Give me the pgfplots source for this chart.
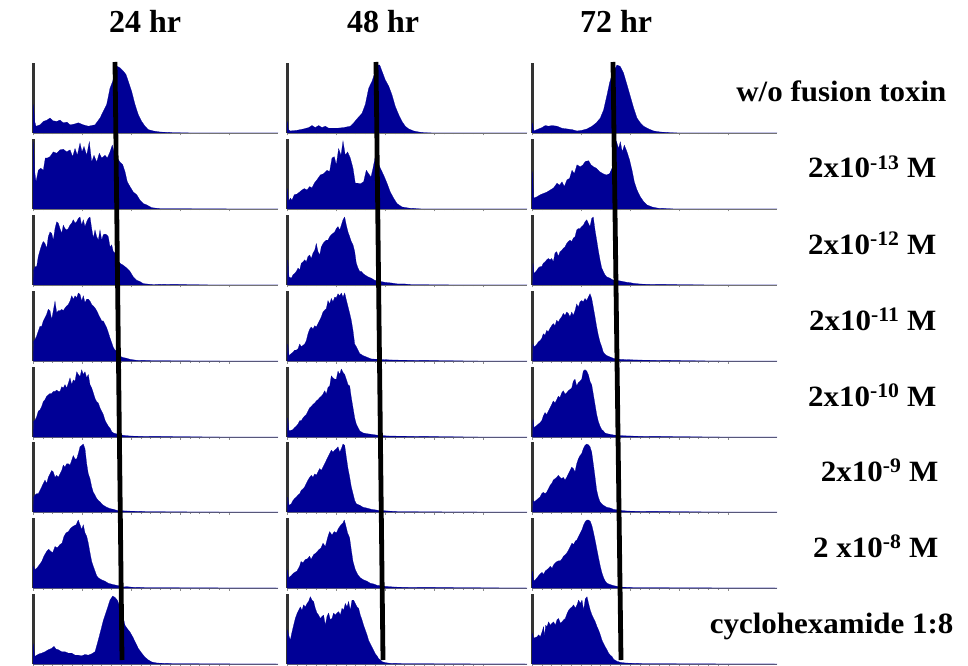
\documentclass[border=0pt]{standalone}
\usepackage{pgfplots}
\pgfplotsset{compat=1.18}
\usepackage{graphicx}
\usepackage{fontspec}
\setmainfont{Liberation Serif}[BoldFont={Liberation Serif Bold}]
\definecolor{hist}{RGB}{0,0,150}
\pgfplotsset{
 panel/.style={
  scale only axis, height=70pt, width=#1pt, xmin=0, xmax=#1, ymin=0, ymax=1.03,
  axis lines=left, axis line style={-},
  x axis line style={black!55, line width=0.6pt},
  y axis line style={black!80, line width=3pt},
  ytick=\empty, xtick={0,49,98,147,196}, minor x tick num=4, xticklabels={},
  tick style={black!45, line width=0.3pt}, major tick length=2.5pt, minor tick length=1.5pt, tick align=outside,
  anchor=south west
 },
 hst/.style={fill=hist, draw=hist, line width=0.2pt}
}
\newcommand{\lab}[1]{\fontsize{31}{35}\selectfont\bfseries\scalebox{1}[0.95]{#1}}
\newcommand{\hdr}[1]{\fontsize{32}{36}\selectfont\bfseries\scalebox{1}[1]{#1}}
\begin{document}
\begin{tikzpicture}
\useasboundingbox (0pt,0pt) rectangle (968pt,665pt);
% ---------------- column 1 (24 hr) ----------------
\begin{axis}[panel=245, at={(33pt,532pt)}]
\addplot[hst] coordinates {(0,0) (0.3,0.42) (1.7,0.17) (3,0.10) (7,0.12) (10.3,0.17) (14,0.19) (17,0.22) (20,0.18) (23.7,0.17) (27,0.19) (30.3,0.15) (34,0.16) (37,0.12) (41,0.13) (45.3,0.15) (50.3,0.12) (55.3,0.10) (62,0.12) (67,0.22) (70.3,0.32) (73.7,0.42) (77,0.66) (79.7,0.76) (82,0.93) (84.3,0.98) (87,0.96) (90.3,0.91) (93,0.86) (95.3,0.76) (98.7,0.61) (102,0.42) (105.3,0.27) (108.7,0.17) (112,0.10) (115.3,0.05) (120.3,0.03) (127,0.015) (140,0.005) (167,0) (245,0)} \closedcycle;
\end{axis}
\begin{axis}[panel=245, at={(33pt,456pt)}]
\addplot[hst] coordinates {(0,0) (0.3,0.99) (1.7,0.55) (3,0.40) (5.3,0.57) (7.7,0.60) (10.3,0.57) (12.3,0.75) (14.3,0.75) (17,0.77) (20.3,0.84) (23.7,0.82) (27,0.87) (30.3,0.88) (33.7,0.84) (37,0.87) (39.7,0.77) (42,0.89) (44.3,0.79) (47,0.97) (49,0.84) (51,0.92) (53.7,0.79) (56.3,0.99) (58.7,0.69) (61,0.79) (63.7,0.69) (66.3,0.82) (68.7,0.75) (72,0.79) (74.3,0.75) (77,0.84) (79.3,0.94) (82,0.79) (84.3,0.75) (87,0.69) (89.7,0.65) (92,0.55) (94.3,0.40) (97,0.33) (100.3,0.25) (103.7,0.21) (107,0.13) (110.3,0.08) (113.7,0.06) (118.7,0.02) (127,0.005) (245,0)} \closedcycle;
\end{axis}
\begin{axis}[panel=245, at={(33pt,380pt)}]
\addplot[hst] coordinates {(0.3,0) (0.7,0.22) (2,0.27) (3.7,0.27) (5.3,0.42) (7,0.51) (8.7,0.59) (10.3,0.64) (12,0.61) (13.7,0.54) (15.3,0.71) (17,0.78) (18.7,0.76) (20.3,0.66) (22,0.83) (23.7,0.93) (25.3,0.91) (27,0.83) (28.7,0.76) (30.3,0.88) (32,0.83) (33.7,0.81) (35.3,0.83) (37,0.88) (38.7,0.91) (40.3,0.96) (42,0.91) (43.7,0.93) (45.3,0.98) (47,1.0) (48.7,0.88) (50.3,0.96) (52,0.86) (53.7,0.93) (55.3,0.98) (57,1.0) (58.7,0.83) (60.3,0.69) (62,0.81) (63.7,0.71) (65.3,0.66) (67,0.81) (68.7,0.66) (70.3,0.74) (72,0.75) (73.7,0.74) (75.3,0.71) (77,0.56) (78.7,0.59) (80.3,0.49) (82,0.47) (83.7,0.37) (85.3,0.34) (87,0.32) (90.3,0.29) (93.7,0.25) (97,0.20) (100.3,0.12) (103.7,0.07) (107,0.05) (110.3,0.02) (113.7,0.015) (120.3,0.005) (130.3,0.01) (187,0) (245,0)} \closedcycle;
\end{axis}
\begin{axis}[panel=245, at={(33pt,304pt)}]
\addplot[hst] coordinates {(0.3,0) (0.7,0.29) (2,0.32) (3.7,0.37) (5.3,0.44) (7,0.51) (8.7,0.51) (10.3,0.59) (12,0.64) (13.7,0.69) (15.3,0.76) (17,0.74) (18.7,0.61) (20.3,0.74) (22,0.88) (23.7,0.71) (25.3,0.74) (27,0.74) (28.7,0.76) (30.3,0.74) (32,0.78) (33.7,0.81) (35.3,0.83) (37,0.88) (38.7,0.96) (40.3,0.91) (42,0.96) (43.7,0.93) (45.3,1.0) (47,0.98) (48.7,0.88) (50.3,0.96) (52,0.86) (53.7,0.91) (55.3,0.91) (57,0.88) (58.7,0.83) (60.3,0.81) (62,0.78) (63.7,0.74) (65.3,0.69) (67,0.64) (68.7,0.59) (70.3,0.59) (72,0.54) (73.7,0.49) (75.3,0.42) (77,0.34) (78.7,0.27) (80.3,0.20) (82,0.16) (83.7,0.15) (87,0.07) (90.3,0.05) (93.7,0.04) (97,0.025) (103.7,0.01) (120.3,0.005) (187,0) (245,0)} \closedcycle;
\end{axis}
\begin{axis}[panel=245, at={(33pt,228pt)}]
\addplot[hst] coordinates {(0.3,0) (0.7,0.23) (2,0.25) (3.7,0.30) (5.3,0.38) (7,0.40) (8.7,0.45) (10.3,0.52) (12,0.55) (13.7,0.60) (15.3,0.62) (17,0.64) (18.7,0.64) (20.3,0.67) (22,0.67) (23.7,0.69) (25.3,0.67) (27,0.67) (28.7,0.74) (30.3,0.72) (32,0.77) (33.7,0.72) (35.3,0.79) (37,0.87) (38.7,0.77) (40.3,0.84) (42,0.82) (43.7,0.96) (45.3,0.92) (47,0.89) (48.7,0.99) (50.3,0.92) (52,0.96) (53.7,0.87) (55.3,0.92) (57,0.77) (58.7,0.72) (60.3,0.65) (62,0.57) (63.7,0.52) (65.3,0.50) (67,0.43) (68.7,0.38) (70.3,0.33) (72,0.25) (73.7,0.20) (75.3,0.16) (77,0.13) (78.7,0.08) (80.3,0.06) (83.7,0.045) (87,0.035) (90.3,0.025) (97,0.015) (107,0.01) (187,0) (245,0)} \closedcycle;
\end{axis}
\begin{axis}[panel=245, at={(33pt,153pt)}]
\addplot[hst] coordinates {(0.3,0) (0.7,0.22) (2,0.25) (3.7,0.27) (5.3,0.27) (7,0.32) (8.7,0.37) (10.3,0.42) (12,0.47) (13.7,0.42) (15.3,0.51) (17,0.56) (18.7,0.61) (20.3,0.59) (22,0.51) (23.7,0.54) (25.3,0.51) (27,0.56) (28.7,0.61) (30.3,0.69) (32,0.66) (33.7,0.71) (35.3,0.71) (37,0.69) (38.7,0.76) (40.3,0.83) (42,0.78) (43.7,0.78) (45.3,0.86) (47,0.96) (48.7,0.98) (50.3,1.0) (52,0.93) (53.7,0.71) (55.3,0.56) (57,0.49) (58.7,0.37) (60.3,0.29) (62,0.25) (63.7,0.20) (65.3,0.17) (67,0.15) (68.7,0.12) (70.3,0.10) (73.7,0.07) (77,0.05) (80.3,0.04) (83.7,0.025) (87,0.02) (93.7,0.015) (103.7,0.01) (113.7,0.005) (187,0) (245,0)} \closedcycle;
\end{axis}
\begin{axis}[panel=245, at={(33pt,77pt)}]
\addplot[hst] coordinates {(0,0) (0.3,0.32) (1.7,0.27) (3.7,0.29) (6.3,0.34) (8.7,0.39) (11,0.47) (13.7,0.54) (15.7,0.57) (17.7,0.54) (19.7,0.52) (22,0.61) (24.3,0.59) (27,0.64) (29,0.66) (31,0.76) (33,0.81) (35.3,0.83) (37.7,0.88) (40.3,0.91) (43,0.93) (45.3,1.0) (47,0.93) (48.7,0.86) (50.3,0.93) (52,0.81) (53.7,0.76) (55.3,0.66) (57,0.52) (58.7,0.39) (60.3,0.32) (62,0.25) (63.7,0.18) (65.3,0.15) (68.7,0.12) (72,0.10) (75.3,0.07) (80.3,0.05) (85.3,0.035) (90.3,0.015) (93.7,0.02) (100.3,0.01) (113.7,0.005) (245,0)} \closedcycle;
\end{axis}
\begin{axis}[panel=245, at={(33pt,1pt)}]
\addplot[hst] coordinates {(0,0) (0.3,0.30) (1.7,0.11) (3.7,0.13) (6.3,0.15) (8.7,0.16) (12,0.18) (15.3,0.21) (18.7,0.23) (21,0.26) (23,0.22) (25.3,0.21) (28.7,0.18) (32,0.18) (35.3,0.16) (38.7,0.16) (42,0.13) (45.3,0.13) (48.7,0.12) (52,0.14) (55.3,0.13) (58.7,0.15) (62,0.18) (64.3,0.30) (67,0.45) (70.3,0.64) (73.7,0.79) (77,0.94) (79.7,1.0) (82,0.98) (84.3,0.94) (87,0.84) (89.7,0.72) (92,0.57) (94.3,0.52) (97,0.47) (99.7,0.40) (102,0.33) (105.3,0.23) (108.7,0.16) (112,0.10) (115.3,0.06) (118.7,0.03) (123.7,0.015) (130.3,0.01) (140.3,0.005) (245,0)} \closedcycle;
\end{axis}
% ---------------- column 2 (48 hr) ----------------
\begin{axis}[panel=240, at={(287pt,532pt)}]
\addplot[hst] coordinates {(0,0) (0.3,0.17) (1.3,0.05) (3.3,0.03) (10,0.04) (16.7,0.06) (21.7,0.08) (25,0.11) (28.3,0.08) (31.7,0.11) (35,0.08) (38.3,0.10) (41.7,0.07) (50,0.07) (56.7,0.08) (63.3,0.10) (66.7,0.15) (70.7,0.22) (75,0.29) (78.3,0.42) (81.7,0.66) (85,0.76) (88.3,0.91) (90,1.0) (92.7,1.0) (95,0.91) (98.3,0.78) (101.7,0.69) (105,0.56) (108.3,0.39) (111.7,0.27) (115,0.17) (118.3,0.10) (121.7,0.06) (126.7,0.03) (131.7,0.015) (136.7,0.005) (150,0) (240,0)} \closedcycle;
\end{axis}
\begin{axis}[panel=240, at={(287pt,456pt)}]
\addplot[hst] coordinates {(0,0) (0.3,0.30) (1.6,0.11) (3.3,0.16) (5,0.13) (7.3,0.21) (10,0.22) (12.6,0.25) (15,0.28) (17.3,0.30) (20,0.28) (22.6,0.33) (25,0.31) (27.3,0.38) (30,0.43) (33.3,0.50) (36.6,0.52) (40,0.57) (42.6,0.55) (45,0.75) (47.3,0.77) (49.3,0.65) (51.6,0.89) (54,0.79) (56,1.0) (58.3,0.79) (60.6,0.84) (63.3,0.75) (66,0.60) (68.3,0.38) (70.6,0.38) (73.3,0.37) (76.6,0.40) (79.3,0.57) (81.6,0.52) (84,0.47) (86,0.60) (88.3,0.77) (90.6,0.70) (93.3,0.60) (96.6,0.50) (100,0.38) (103.3,0.25) (106.6,0.16) (110,0.08) (115,0.03) (123.3,0.01) (136.6,0) (240,0)} \closedcycle;
\end{axis}
\begin{axis}[panel=240, at={(287pt,380pt)}]
\addplot[hst] coordinates {(0.3,0) (0.7,0.37) (2,0.12) (4.3,0.10) (6,0.15) (7.7,0.17) (9.3,0.20) (11,0.25) (12.7,0.22) (14.3,0.32) (16,0.34) (17.7,0.37) (19.3,0.34) (21,0.42) (22.7,0.44) (24.3,0.39) (26,0.47) (27.7,0.51) (29.3,0.61) (31,0.49) (32.7,0.44) (34.3,0.56) (36,0.61) (37.7,0.64) (39.3,0.66) (41,0.66) (42.7,0.71) (44.3,0.74) (46,0.76) (47.7,0.78) (49.3,0.83) (51,0.86) (52.7,0.81) (54.3,0.88) (56,0.96) (57.7,1.0) (59.3,0.88) (61,0.78) (62.7,0.71) (64.3,0.64) (66,0.59) (67.7,0.49) (69.3,0.32) (71,0.25) (72.7,0.20) (74.3,0.20) (76,0.17) (77.7,0.15) (81,0.12) (84.3,0.10) (87.7,0.07) (91,0.06) (94.3,0.05) (97.7,0.04) (104.3,0.03) (111,0.015) (117.7,0.015) (124.3,0.005) (191,0) (240,0)} \closedcycle;
\end{axis}
\begin{axis}[panel=240, at={(287pt,304pt)}]
\addplot[hst] coordinates {(0.3,0) (0.7,0.25) (2,0.08) (4.3,0.11) (6,0.13) (7.7,0.16) (9.3,0.16) (11,0.18) (12.7,0.25) (14.3,0.21) (16,0.23) (17.7,0.25) (19.3,0.30) (21,0.40) (22.7,0.47) (24.3,0.50) (26,0.47) (27.7,0.52) (29.3,0.50) (31,0.55) (32.7,0.60) (34.3,0.65) (36,0.72) (37.7,0.75) (39.3,0.77) (41,0.89) (42.7,0.84) (44.3,0.92) (46,0.87) (47.7,0.94) (49.3,0.93) (51,0.99) (52.7,0.96) (54.3,1.0) (56,0.94) (57.7,1.0) (59.3,0.90) (61,0.80) (62.7,0.70) (64.3,0.60) (66,0.45) (67.7,0.25) (69.3,0.21) (71,0.16) (72.7,0.11) (76,0.08) (79.3,0.06) (84.3,0.03) (91,0.025) (104.3,0.015) (124.3,0.01) (191,0) (240,0)} \closedcycle;
\end{axis}
\begin{axis}[panel=240, at={(287pt,228pt)}]
\addplot[hst] coordinates {(0.3,0) (0.7,0.28) (2,0.09) (4.3,0.10) (6,0.11) (7.7,0.14) (9.3,0.16) (11,0.19) (12.7,0.24) (14.3,0.24) (16,0.28) (17.7,0.31) (19.3,0.33) (21,0.38) (22.7,0.43) (24.3,0.45) (26,0.48) (27.7,0.50) (29.3,0.53) (31,0.55) (32.7,0.58) (34.3,0.60) (36,0.63) (37.7,0.68) (39.3,0.63) (41,0.73) (42.7,0.75) (44.3,0.90) (46,0.87) (47.7,0.85) (49.3,0.85) (51,0.97) (52.7,0.92) (54.3,1.0) (56,0.95) (57.7,0.92) (59.3,0.85) (61,0.77) (62.7,0.75) (64.3,0.58) (66,0.43) (67.7,0.28) (69.3,0.19) (71,0.14) (72.7,0.09) (76,0.06) (79.3,0.05) (84.3,0.04) (91,0.025) (101,0.015) (124.3,0.01) (191,0) (240,0)} \closedcycle;
\end{axis}
\begin{axis}[panel=240, at={(287pt,153pt)}]
\addplot[hst] coordinates {(0.3,0) (0.7,0.22) (2,0.10) (4.3,0.12) (6,0.17) (7.7,0.20) (9.3,0.22) (11,0.25) (12.7,0.27) (14.3,0.32) (16,0.34) (17.7,0.37) (19.3,0.42) (21,0.47) (22.7,0.51) (24.3,0.54) (26,0.51) (27.7,0.56) (29.3,0.54) (31,0.59) (32.7,0.64) (34.3,0.61) (36,0.66) (37.7,0.71) (39.3,0.76) (41,0.81) (42.7,0.86) (44.3,0.91) (46,0.88) (47.7,0.91) (49.3,0.93) (51,0.96) (52.7,0.88) (54.3,0.93) (56,1.0) (57.7,0.98) (59.3,0.81) (61,0.64) (62.7,0.51) (64.3,0.37) (66,0.27) (67.7,0.17) (69.3,0.12) (72.7,0.10) (76,0.07) (79.3,0.06) (84.3,0.04) (91,0.025) (101,0.015) (111,0.005) (191,0) (240,0)} \closedcycle;
\end{axis}
\begin{axis}[panel=240, at={(287pt,77pt)}]
\addplot[hst] coordinates {(0,0) (0.3,0.27) (1.6,0.15) (4,0.18) (6.6,0.22) (10,0.25) (12.6,0.32) (14,0.39) (16,0.37) (18.3,0.42) (20.6,0.43) (22.6,0.47) (24,0.42) (26.6,0.49) (29.3,0.52) (31.6,0.56) (34,0.59) (36,0.66) (38.3,0.61) (40.6,0.74) (42.6,0.83) (45,0.78) (47.3,0.83) (49.3,0.81) (51.6,0.88) (54,0.93) (56,0.96) (57.3,1.0) (58.6,0.93) (60.6,0.81) (62.6,0.74) (64.3,0.56) (66,0.39) (68.3,0.27) (70.6,0.20) (73.3,0.15) (76.6,0.12) (80,0.10) (83.3,0.07) (86.6,0.06) (90,0.04) (93.3,0.035) (98.3,0.025) (106.6,0.015) (116.6,0.01) (240,0)} \closedcycle;
\end{axis}
\begin{axis}[panel=240, at={(287pt,1pt)}]
\addplot[hst] coordinates {(0,0) (0.3,0.50) (1.6,0.43) (3.3,0.35) (5,0.47) (6.6,0.57) (8.3,0.67) (10,0.74) (11.6,0.79) (13.3,0.84) (15,0.79) (16.6,0.87) (18.3,0.84) (20,0.89) (21.6,0.92) (23.3,0.99) (25,0.94) (26.6,0.92) (28.3,0.82) (30,0.75) (31.6,0.72) (33.3,0.67) (35,0.70) (36.6,0.72) (38.3,0.57) (40,0.70) (41.6,0.75) (43.3,0.65) (45,0.67) (46.6,0.75) (48.3,0.72) (50,0.75) (51.6,0.77) (53.3,0.72) (55,0.82) (56.6,0.79) (58.3,0.89) (60,0.84) (61.6,0.92) (63.3,0.79) (65,0.94) (66.6,0.94) (68.3,0.89) (70,0.84) (71.6,0.82) (73.3,0.72) (75,0.65) (76.6,0.57) (78.3,0.50) (80,0.43) (81.6,0.35) (83.3,0.30) (85,0.25) (86.6,0.20) (88.3,0.15) (90,0.12) (91.6,0.08) (93.3,0.06) (95,0.035) (98.3,0.02) (103.3,0.01) (116.6,0.005) (240,0)} \closedcycle;
\end{axis}
% ---------------- column 3 (72 hr) ----------------
\begin{axis}[panel=245, at={(532pt,532pt)}]
\addplot[hst] coordinates {(0,0) (0.3,0.15) (1.6,0.03) (5,0.05) (10,0.08) (13.3,0.11) (16.6,0.10) (20,0.11) (25,0.10) (30,0.07) (35,0.06) (40,0.05) (45,0.03) (50,0.04) (55,0.06) (60,0.10) (64.3,0.15) (68.3,0.22) (71.6,0.34) (75,0.56) (77.6,0.74) (80,0.86) (82.3,0.93) (85,1.0) (88.3,0.98) (91.6,0.88) (95,0.71) (98.3,0.54) (101.6,0.37) (105,0.22) (108.3,0.15) (111.6,0.10) (116.6,0.06) (121.6,0.03) (128.3,0.015) (138.3,0.005) (150,0) (245,0)} \closedcycle;
\end{axis}
\begin{axis}[panel=245, at={(532pt,456pt)}]
\addplot[hst] coordinates {(0,0) (0.3,0.55) (1.6,0.16) (5,0.18) (8.3,0.21) (11.6,0.23) (15,0.25) (18.3,0.28) (21.6,0.31) (25,0.38) (27.6,0.35) (30,0.40) (32.3,0.33) (35,0.43) (37.6,0.45) (40,0.57) (42.3,0.52) (45,0.65) (48.3,0.62) (51,0.65) (53.3,0.70) (56.6,0.71) (59,0.65) (61.6,0.62) (64.3,0.60) (67.6,0.55) (71,0.52) (74.3,0.50) (77.6,0.52) (80,0.60) (82.3,0.70) (84.3,1.0) (86.6,0.89) (88.3,0.99) (90.3,0.84) (92.3,0.94) (95,0.84) (97.6,0.72) (100,0.57) (102.3,0.40) (105,0.28) (108.3,0.18) (111.6,0.11) (115,0.06) (120,0.03) (126.6,0.01) (145,0) (245,0)} \closedcycle;
\end{axis}
\begin{axis}[panel=245, at={(532pt,380pt)}]
\addplot[hst] coordinates {(0.7,0) (1,0.32) (2,0.17) (4,0.20) (6.3,0.25) (8,0.27) (9.7,0.27) (11.3,0.32) (13,0.34) (14.7,0.37) (16.3,0.39) (18,0.37) (19.7,0.39) (21.3,0.34) (23,0.47) (24.7,0.49) (26.3,0.42) (28,0.49) (29.7,0.51) (31.3,0.54) (33,0.56) (34.7,0.61) (36.3,0.64) (38,0.66) (39.7,0.64) (41.3,0.69) (43,0.71) (44.7,0.81) (46.3,0.83) (48,0.83) (49.7,0.86) (51.3,0.88) (53,0.93) (54.7,0.96) (56.3,0.91) (58,0.86) (59.7,0.98) (61.3,1.0) (63,0.81) (64.7,0.66) (66.3,0.51) (68,0.37) (69.7,0.25) (71.3,0.20) (73,0.15) (74.7,0.12) (76.3,0.11) (78,0.10) (81.3,0.07) (84.7,0.07) (88,0.06) (91.3,0.05) (94.7,0.04) (98,0.035) (101.3,0.025) (108,0.015) (114.7,0.01) (188,0) (245,0)} \closedcycle;
\end{axis}
\begin{axis}[panel=245, at={(532pt,304pt)}]
\addplot[hst] coordinates {(0.7,0) (1,0.25) (2,0.21) (4,0.23) (6.3,0.28) (8,0.30) (9.7,0.33) (11.3,0.40) (13,0.38) (14.7,0.45) (16.3,0.43) (18,0.48) (19.7,0.52) (21.3,0.55) (23,0.52) (24.7,0.60) (26.3,0.57) (28,0.62) (29.7,0.65) (31.3,0.70) (33,0.67) (34.7,0.72) (36.3,0.70) (38,0.65) (39.7,0.72) (41.3,0.67) (43,0.74) (44.7,0.84) (46.3,0.79) (48,0.87) (49.7,0.89) (51.3,0.87) (53,0.92) (54.7,0.89) (56.3,0.94) (58,0.99) (59.7,0.92) (61.3,0.79) (63,0.65) (64.7,0.50) (66.3,0.38) (68,0.28) (69.7,0.21) (71.3,0.13) (73,0.10) (74.7,0.08) (78,0.06) (81.3,0.04) (84.7,0.03) (88,0.025) (94.7,0.02) (104.7,0.015) (121.3,0.01) (188,0) (245,0)} \closedcycle;
\end{axis}
\begin{axis}[panel=245, at={(532pt,228pt)}]
\addplot[hst] coordinates {(0.7,0) (1,0.26) (2,0.14) (4,0.16) (6.3,0.19) (8,0.21) (9.7,0.24) (11.3,0.31) (13,0.36) (14.7,0.33) (16.3,0.38) (18,0.43) (19.7,0.48) (21.3,0.53) (23,0.50) (24.7,0.55) (26.3,0.60) (28,0.58) (29.7,0.65) (31.3,0.68) (33,0.63) (34.7,0.65) (36.3,0.68) (38,0.70) (39.7,0.72) (41.3,0.82) (43,0.85) (44.7,0.75) (46.3,0.80) (48,0.82) (49.7,0.85) (51.3,0.97) (53,0.99) (54.7,0.97) (56.3,0.92) (58,0.82) (59.7,0.77) (61.3,0.63) (63,0.48) (64.7,0.33) (66.3,0.23) (68,0.16) (69.7,0.11) (71.3,0.09) (73,0.06) (74.7,0.05) (78,0.04) (81.3,0.03) (88,0.02) (98,0.015) (108,0.01) (188,0) (245,0)} \closedcycle;
\end{axis}
\begin{axis}[panel=245, at={(532pt,153pt)}]
\addplot[hst] coordinates {(0.7,0) (1,0.17) (2,0.15) (4,0.17) (6.3,0.20) (8,0.22) (9.7,0.27) (11.3,0.29) (13,0.27) (14.7,0.29) (16.3,0.34) (18,0.39) (19.7,0.42) (21.3,0.47) (23,0.49) (24.7,0.51) (26.3,0.54) (28,0.51) (29.7,0.49) (31.3,0.51) (33,0.47) (34.7,0.51) (36.3,0.56) (38,0.61) (39.7,0.66) (41.3,0.64) (43,0.59) (44.7,0.71) (46.3,0.78) (48,0.83) (49.7,0.86) (51.3,0.93) (53,0.98) (54.7,1.0) (56.3,0.99) (58,0.96) (59.7,0.88) (61.3,0.71) (63,0.52) (64.7,0.32) (66.3,0.22) (68,0.15) (69.7,0.12) (71.3,0.10) (74.7,0.07) (78,0.06) (81.3,0.04) (88,0.025) (94.7,0.015) (104.7,0.01) (188,0) (245,0)} \closedcycle;
\end{axis}
\begin{axis}[panel=245, at={(532pt,77pt)}]
\addplot[hst] coordinates {(0,0) (0.3,0.25) (1.6,0.10) (3.3,0.12) (5,0.15) (6.6,0.18) (8.3,0.21) (10,0.23) (11.6,0.20) (13.3,0.25) (15,0.27) (16.6,0.29) (18.3,0.32) (20,0.29) (21.6,0.34) (23.3,0.37) (25,0.39) (26.6,0.40) (28.3,0.40) (30,0.43) (31.6,0.47) (33.3,0.49) (35,0.52) (36.6,0.56) (38.3,0.61) (40,0.66) (41.6,0.64) (43.3,0.69) (45,0.71) (46.6,0.76) (48.3,0.81) (50,0.86) (51.6,0.93) (53.3,0.98) (55,1.0) (56.6,1.0) (58.3,0.98) (60,0.91) (61.6,0.81) (63.3,0.69) (65,0.56) (66.6,0.44) (68.3,0.32) (70,0.22) (71.6,0.15) (73.3,0.10) (75,0.07) (78.3,0.05) (81.6,0.035) (85,0.025) (88.3,0.015) (95,0.01) (101.6,0.005) (245,0)} \closedcycle;
\end{axis}
\begin{axis}[panel=245, at={(532pt,1pt)}]
\addplot[hst] coordinates {(0,0) (0.3,0.45) (1.6,0.38) (3.3,0.39) (5,0.40) (6.6,0.43) (8.3,0.40) (10,0.47) (11.6,0.55) (12.6,0.40) (13.6,0.57) (15,0.55) (16.6,0.62) (18.3,0.57) (20,0.60) (21.6,0.62) (23.3,0.57) (25,0.65) (26.6,0.67) (28.3,0.60) (30,0.62) (31.6,0.65) (33.3,0.67) (35,0.74) (36.6,0.79) (38.3,0.82) (40,0.84) (41.6,0.87) (43.3,0.82) (45,0.87) (46.6,0.94) (48.3,0.89) (50,0.94) (51.6,0.79) (53.3,0.96) (55,0.99) (56.6,0.89) (58.3,0.79) (60,0.72) (61.6,0.67) (63.3,0.62) (65,0.55) (66.6,0.50) (68.3,0.43) (70,0.35) (71.6,0.30) (73.3,0.25) (75,0.21) (76.6,0.16) (78.3,0.13) (80,0.11) (81.6,0.07) (85,0.04) (88.3,0.025) (93.3,0.015) (101.6,0.01) (111.6,0.005) (245,0)} \closedcycle;
\end{axis}
% ---------------- reference lines ----------------
\begin{axis}[at={(0pt,0pt)}, anchor=south west, scale only axis, width=968pt, height=665pt,
  xmin=0, xmax=968, ymin=0, ymax=665, hide axis]
\addplot[black, line width=4.8pt] coordinates {(115,603) (122,5)};
\addplot[black, line width=4.8pt] coordinates {(376,603) (383,5)};
\addplot[black, line width=4.8pt] coordinates {(613,603) (621,5)};
\end{axis}
% ---------------- texts ----------------
\node[anchor=base] at (145pt,632pt) {\hdr{24 hr}};
\node[anchor=base] at (383pt,632pt) {\hdr{48 hr}};
\node[anchor=base] at (616pt,632pt) {\hdr{72 hr}};
\node[anchor=base east] at (950pt,563pt) {\lab{w/o fusion toxin}};
\node[anchor=base east] at (940pt,487pt) {\lab{2x10\textsuperscript{-13} M}};
\node[anchor=base east] at (940pt,411pt) {\lab{2x10\textsuperscript{-12} M}};
\node[anchor=base east] at (940pt,335pt) {\lab{2x10\textsuperscript{-11} M}};
\node[anchor=base east] at (940pt,259pt) {\lab{2x10\textsuperscript{-10} M}};
\node[anchor=base east] at (942pt,184pt) {\lab{2x10\textsuperscript{-9} M}};
\node[anchor=base east] at (942pt,108pt) {\lab{2 x10\textsuperscript{-8} M}};
\node[anchor=base east] at (957pt,32pt) {\lab{cyclohexamide 1:8}};
\end{tikzpicture}
\end{document}
